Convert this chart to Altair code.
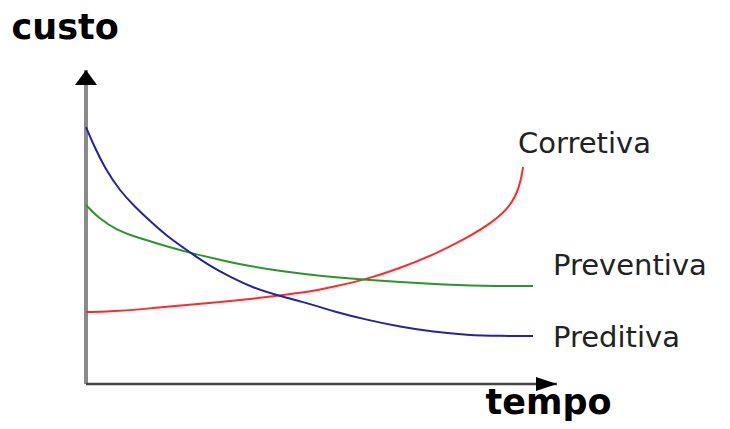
import altair as alt
import pandas as pd

# ---- data (time 0..100, cost 0..100) ----
SERIES = ["Corretiva", "Preventiva", "Preditiva"]
COLORS = ["#ff2a2a", "#2a962a", "#24249b"]

CORR_T = [0, 7.2, 14.2, 21.4, 28.5, 35.5, 41.2, 45.4, 49.7, 52.4, 59.7, 66.7, 73.7, 80.9, 86.4, 90.0, 92.1, 92.8]
CORR_C = [22.9, 23.2, 24.2, 25.2, 26.1, 27.2, 28.2, 29.0, 30.1, 30.9, 33.4, 36.9, 41.1, 46.5, 51.6, 56.4, 62.7, 69.1]

PREV_T = [0, 3.0, 6.6, 10.2, 13.8, 17.2, 22.3, 28.5, 35.5, 42.7, 49.7, 59.7, 73.7, 84.3, 94.9]
PREV_C = [57.0, 52.4, 49.0, 47.0, 45.4, 43.8, 41.7, 39.5, 37.3, 35.7, 34.4, 33.1, 31.8, 31.2, 31.2]

PRED_T = [0, 1.9, 4.0, 7.2, 10.4, 13.8, 17.2, 20.8, 22.3, 26.3, 30.6, 35.5, 41.2, 46.1, 49.7, 52.4, 59.7, 66.7, 73.7, 80.9, 87.9, 94.9]
PRED_C = [81.8, 75.2, 68.8, 61.5, 56.4, 51.6, 47.1, 43.3, 41.7, 37.6, 34.1, 30.6, 28.0, 26.1, 24.5, 23.2, 20.4, 18.2, 16.6, 15.6, 15.3, 15.3]

X_LABEL = "tempo"
Y_LABEL = "custo"
X_MAX = 100
Y_MAX = 100

rows = []
for name, ts, cs in [("Corretiva", CORR_T, CORR_C), ("Preventiva", PREV_T, PREV_C), ("Preditiva", PRED_T, PRED_C)]:
    for i, (t, c) in enumerate(zip(ts, cs)):
        rows.append({"serie": name, "t": t, "c": c, "i": i})
df = pd.DataFrame(rows)

FONT = "DejaVu Sans"

x_enc = alt.X("t:Q", scale=alt.Scale(domain=[0, X_MAX], nice=False, zero=False),
              axis=alt.Axis(domain=False, ticks=False, labels=False, grid=False,
                            title=X_LABEL, titleFont=FONT, titleFontSize=35, titleFontWeight="bold",
                            titleColor="#000000", titleAngle=0, titleAlign="left",
                            titleBaseline="alphabetic", titleX=399, titleY=29))
y_enc = alt.Y("c:Q", scale=alt.Scale(domain=[0, Y_MAX], nice=False, zero=False),
              axis=alt.Axis(domain=False, ticks=False, labels=False, grid=False,
                            title=Y_LABEL, titleFont=FONT, titleFontSize=35, titleFontWeight="bold",
                            titleColor="#000000", titleAngle=0, titleAlign="left",
                            titleBaseline="alphabetic", titleX=-75, titleY=-32))

lines = alt.Chart(df).mark_line(strokeWidth=2, interpolate="basis").encode(
    x=x_enc, y=y_enc,
    color=alt.Color("serie:N", scale=alt.Scale(domain=SERIES, range=COLORS), legend=None),
    detail="serie:N", order="i:Q",
)

axes_df = pd.DataFrame({"t": [0], "c": [0], "t2": [X_MAX], "c2": [Y_MAX]})
y_axis_line = alt.Chart(axes_df).mark_rule(color="#8a8a8a", strokeWidth=4).encode(
    x=x_enc, y=y_enc, y2="c2:Q")
x_axis_line = alt.Chart(axes_df).mark_rule(color="#444444", strokeWidth=2.5).encode(
    x=x_enc, x2="t2:Q", y=y_enc)

up_df = pd.DataFrame({"t": [0], "c": [Y_MAX]})
right_df = pd.DataFrame({"t": [X_MAX], "c": [0]})
y_head = alt.Chart(up_df).mark_point(shape="M-1,1.36L1,1.36L0,0Z", size=484, filled=True,
                                      color="#000000", opacity=1).encode(x=x_enc, y=y_enc)
x_head = alt.Chart(right_df).mark_point(shape="M-3,-1L-3,1L0,0Z", size=196, filled=True,
                                         color="#000000", opacity=1).encode(x=x_enc, y=y_enc)

# series labels anchored on each curve's last point
LABEL_OFFSETS = {"Corretiva": (-5, -14), "Preventiva": (20, -11), "Preditiva": (20, 11)}
last = df.sort_values("i").groupby("serie").tail(1)
label_layers = []
for name in SERIES:
    dx, dy = LABEL_OFFSETS[name]
    label_layers.append(
        alt.Chart(last[last.serie == name]).mark_text(
            align="left", baseline="alphabetic", dx=dx, dy=dy, font=FONT, fontSize=29,
            color="#222222").encode(x=x_enc, y=y_enc, text="serie:N")
    )

chart = alt.layer(y_axis_line, x_axis_line, lines, y_head, x_head, *label_layers).properties(
    width=471, height=314,
    padding={"left": 78, "top": 62, "right": 165, "bottom": 37},
    autosize=alt.AutoSizeParams(type="none"),
    background="#ffffff",
).configure_view(strokeWidth=0)

chart.save("out.html", embed_options={"renderer": "svg", "actions": False})
